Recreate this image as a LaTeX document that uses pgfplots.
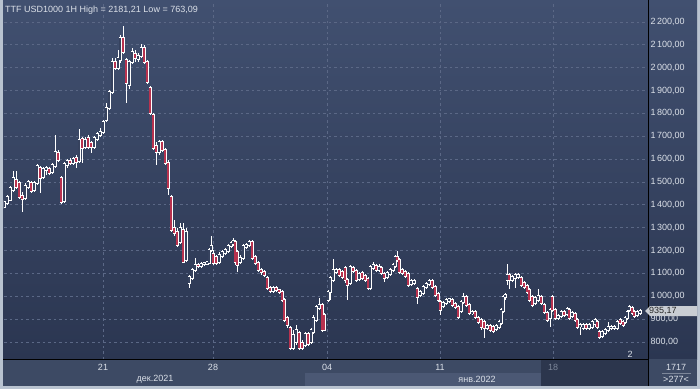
\documentclass[border=0pt]{standalone}
\usepackage{pgfplots}
\pgfplotsset{compat=1.18}
\usepackage{pgfplotstable}
\usepackage{fontspec}
\setmainfont{Liberation Sans}
\definecolor{bgtop}{HTML}{415070}
\definecolor{bgbot}{HTML}{2B3651}
\definecolor{gridc}{HTML}{5B6886}
\definecolor{upfill}{HTML}{36425E}
\definecolor{dnfill}{HTML}{B8324F}
\definecolor{txt}{HTML}{DCE1E9}
\definecolor{framec}{HTML}{B9C3D0}
\definecolor{panel}{HTML}{3D4A64}
\definecolor{panellight}{HTML}{4B5874}
\definecolor{paneldark}{HTML}{2C364D}
\definecolor{dimtxt}{HTML}{7D879A}
\definecolor{pricebox}{HTML}{C9CDD3}

\pgfplotstableread{
x o h l c
4 1391 1421 1382 1413
7 1408 1443 1399 1434
10 1421 1483 1417 1474
13 1465 1548 1456 1518
16 1509 1548 1469 1478
19 1496 1504 1426 1434
22 1439 1456 1369 1426
25 1430 1496 1421 1483
28 1478 1509 1469 1500
31 1496 1504 1452 1461
34 1465 1504 1456 1496
37 1496 1579 1487 1570
40 1561 1570 1452 1518
43 1522 1566 1513 1557
46 1553 1570 1531 1561
49 1557 1566 1531 1539
52 1544 1583 1535 1574
55 1570 1706 1561 1631
58 1627 1640 1588 1596
61 1518 1526 1404 1413
64 1417 1588 1408 1579
67 1574 1601 1561 1592
70 1592 1605 1574 1583
73 1583 1609 1574 1601
76 1605 1618 1561 1588
79 1592 1732 1583 1684
82 1688 1697 1583 1649
85 1653 1697 1644 1684
88 1693 1706 1644 1653
91 1671 1679 1627 1653
94 1653 1701 1644 1693
97 1688 1719 1679 1710
100 1706 1736 1697 1719
103 1719 1771 1710 1763
106 1771 1846 1763 1824
109 1824 1903 1815 1894
112 1894 2043 1885 2025
115 2025 2043 1990 1999
118 1999 2078 1990 2043
120 2034 2143 2021 2130
123 2130 2181.21 2060 2069
126 2034 2043 1846 1933
129 1924 2034 1907 2025
132 2025 2086 2016 2069
135 2060 2078 2025 2043
138 2038 2064 2025 2051
141 2051 2104 2043 2086
144 2086 2099 2016 2025
147 2025 2034 1929 1938
150 1911 1920 1793 1802
153 1793 1802 1640 1649
156 1658 1675 1574 1631
159 1631 1684 1618 1675
162 1675 1684 1631 1640
165 1640 1649 1574 1583
168 1583 1596 1443 1474
171 1434 1443 1281 1290
174 1299 1334 1264 1277
177 1281 1299 1216 1224
180 1238 1321 1229 1299
183 1290 1321 1146 1150
186 1159 1299 1150 1281
189 1058 1093 1036 1084
192 1080 1124 1071 1115
195 1115 1168 1106 1137
198 1137 1146 1124 1133
201 1133 1150 1124 1141
204 1141 1150 1133 1146
207 1141 1154 1137 1150
209 1146 1211 1141 1203
211 1203 1264 1194 1220
213 1185 1203 1137 1146
216 1172 1181 1137 1146
219 1150 1194 1141 1181
222 1176 1203 1168 1194
225 1189 1211 1181 1203
228 1198 1229 1189 1220
231 1220 1242 1211 1233
233 1229 1255 1220 1242
235 1238 1246 1137 1150
237 1194 1203 1106 1137
240 1150 1181 1141 1168
243 1168 1229 1159 1220
246 1216 1233 1207 1224
249 1224 1246 1216 1238
252 1238 1246 1159 1168
255 1172 1181 1137 1146
258 1146 1154 1106 1115
261 1115 1124 1093 1106
264 1106 1115 1084 1093
267 1080 1089 1028 1036
270 1036 1045 1014 1023
273 1023 1045 1014 1036
276 1036 1045 1019 1028
279 1028 1032 1010 1019
282 1019 1028 975 984
284 984 992 888 896
287 905 914 861 874
290 861 870 765 774
293 774 853 765 831
296 800 874 787 853
299 839 848 765 774
302 796 809 763.09 774
305 787 844 778 835
308 835 844 783 791
311 800 861 791 853
313 844 918 835 905
316 896 962 888 953
319 949 993 940 962
322 962 971 844 853
324 918 927 848 853
328 984 1028 975 1019
330 1019 1089 984 1080
333 1071 1163 1063 1115
336 1106 1124 1098 1115
339 1115 1124 1084 1093
342 1106 1115 1076 1084
345 1124 1133 1058 1071
347 1071 1080 984 1049
350 1058 1137 1049 1128
353 1124 1133 1102 1111
356 1111 1119 1063 1071
359 1076 1106 1067 1098
362 1102 1111 1071 1080
365 1089 1098 1063 1071
368 1076 1084 1028 1036
370 1036 1137 1028 1128
373 1124 1150 1115 1137
376 1133 1141 1106 1115
379 1115 1141 1106 1128
381 1124 1133 1093 1102
384 1098 1106 1063 1080
387 1084 1111 1076 1102
390 1098 1124 1089 1115
393 1115 1146 1106 1137
395 1133 1181 1124 1172
397 1172 1198 1150 1159
399 1159 1168 1098 1106
402 1115 1124 1093 1102
405 1106 1115 1080 1089
408 1098 1106 1041 1049
411 1054 1076 1045 1067
414 1058 1076 1049 1067
417 1032 1041 966 997
420 1006 1028 997 1019
423 1014 1049 1006 1041
426 1041 1063 1032 1054
429 1054 1076 1045 1067
432 1067 1076 1032 1041
435 1041 1049 997 1006
438 1010 1019 975 984
440 975 984 918 940
443 958 979 949 971
446 971 993 962 984
449 979 993 971 988
452 984 993 953 962
455 966 975 944 953
458 953 962 901 909
461 936 984 927 975
463 975 1014 966 997
466 997 1006 953 962
469 962 971 918 927
472 927 940 918 931
475 931 940 901 909
478 905 914 879 888
481 896 905 853 866
484 888 896 818 861
487 861 879 853 870
490 870 879 844 853
493 866 874 839 848
496 857 879 848 870
499 866 896 857 888
501 883 949 874 940
503 936 1006 927 997
505 997 1014 984 1006
507 1071 1141 1049 1093
509 1093 1102 1032 1071
512 1071 1093 1063 1084
515 1080 1102 1036 1093
518 1084 1102 1076 1093
521 1080 1089 1041 1049
524 1058 1067 1032 1041
527 1045 1054 1010 1019
529 1028 1036 975 984
532 997 1006 953 962
535 971 1001 962 993
538 984 1032 975 1001
541 997 1006 962 971
544 962 971 923 931
547 927 936 888 896
550 905 949 866 940
552 997 1006 931 940
555 940 949 896 905
558 905 923 896 914
561 914 940 905 931
564 931 940 909 918
567 923 953 914 944
569 940 949 896 905
572 914 936 905 927
575 923 931 888 896
577 896 905 857 866
580 870 883 831 874
583 861 883 853 874
586 874 883 853 861
589 861 883 853 874
592 866 896 857 888
595 879 905 866 896
597 888 896 857 866
599 844 853 813 822
602 826 853 818 844
605 839 861 831 853
608 853 888 844 866
611 861 874 853 866
614 861 874 853 866
617 861 896 853 888
620 896 905 874 883
623 888 896 866 874
625 888 914 879 905
627 905 940 896 931
629 940 962 931 953
632 949 958 918 927
634 931 940 905 914
637 918 940 909 931
640 927 944 918 935.17
}\candles

\begin{document}
\begin{tikzpicture}[x=1pt,y=1pt]
\fill[framec] (0,0) rectangle (700,389);
\shade[top color=bgtop,bottom color=bgbot] (3,30) rectangle (697,389);
\fill[panel] (3,3) rectangle (697,30);
\fill[panellight] (305,3) rectangle (541,16);
\fill[paneldark] (541,3) rectangle (648,29);
\begin{axis}[at={(4pt,30pt)}, anchor=south west,
  width=644pt, height=356pt, scale only axis,
  xmin=4, xmax=648, ymin=725.6, ymax=2283.1,
  axis line style={draw=none},
  major tick length=0pt,
  xtick={103,213,327,440,553}, xticklabels={},
  ytick={800,900,...,2200},
  yticklabel pos=right,
  yticklabel style={anchor=west, font=\fontsize{9}{10}\selectfont, text=txt, xshift=-1pt},
  /pgf/number format/.cd, fixed, fixed zerofill, precision=2, use comma, 1000 sep={\,}, assume math mode=true,
  /pgfplots/.cd,
  grid=major,
  major grid style={gridc, dash pattern=on 2.5pt off 3pt, line width=0.8pt},
  every axis plot/.append style={draw=none, mark=none},
]
% wicks
\addplot[draw=none, mark=none,
  error bars/.cd, y dir=both, y explicit, error mark=none,
  error bar style={draw=white, line width=1pt}]
  table[x=x, y expr={(\thisrow{h}+\thisrow{l})/2}, y error expr={(\thisrow{h}-\thisrow{l})/2}] {\candles};
% body outline
\addplot[draw=none, mark=none,
  error bars/.cd, y dir=both, y explicit, error mark=none,
  error bar style={draw=white, line width=3pt}]
  table[x=x, y expr={(\thisrow{o}+\thisrow{c})/2}, y error expr={abs(\thisrow{o}-\thisrow{c})/2+3.5}] {\candles};
% up bodies
\addplot[draw=none, mark=none,
  restrict expr to domain={\thisrow{c}-\thisrow{o}}{0:100000},
  error bars/.cd, y dir=both, y explicit, error mark=none,
  error bar style={draw=upfill, line width=1.1pt}]
  table[x=x, y expr={(\thisrow{o}+\thisrow{c})/2}, y error expr={abs(\thisrow{o}-\thisrow{c})/2}] {\candles};
% down bodies
\addplot[draw=none, mark=none,
  restrict expr to domain={\thisrow{o}-\thisrow{c}}{0.001:100000},
  error bars/.cd, y dir=both, y explicit, error mark=none,
  error bar style={draw=dnfill, line width=1.1pt}]
  table[x=x, y expr={(\thisrow{o}+\thisrow{c})/2}, y error expr={abs(\thisrow{o}-\thisrow{c})/2}] {\candles};
\end{axis}
% frame lines
\draw[black, line width=1pt] (3,30) -- (648,30);
\draw[black, line width=1pt] (648,3) -- (648,389);
% title
\node[anchor=west, text=txt, font=\fontsize{9}{10}\selectfont, inner sep=0pt] at (5,379) {TTF USD1000 1H High = 2181,21 Low = 763,09};
% bottom panel labels
\begin{scope}[every node/.style={font=\fontsize{9}{10}\selectfont, text=txt, inner sep=0pt}]
\node at (103,22) {21};
\node at (213,22) {28};
\node at (327,22) {04};
\node at (440,22) {11};
\node[text=dimtxt] at (553,22) {18};
\node at (155,9.5) {дек.2021};
\node at (477,9.5) {янв.2022};
\node at (676,22) {1717};
\node at (676,9.5) {>277<};
\node at (630,35) {2};
\end{scope}
\draw[dimtxt, line width=0.5pt] (662,16) -- (691,16);
% current price box
\fill[pricebox] (645,78) -- (650,83) -- (697,83) -- (697,73) -- (650,73) -- cycle;
\node[anchor=west, text=black!85, font=\fontsize{9}{10}\selectfont, inner sep=0pt] at (649,78) {935,17};
\pgfresetboundingbox
\useasboundingbox (0,0) rectangle (700,389);
\end{tikzpicture}
\end{document}
